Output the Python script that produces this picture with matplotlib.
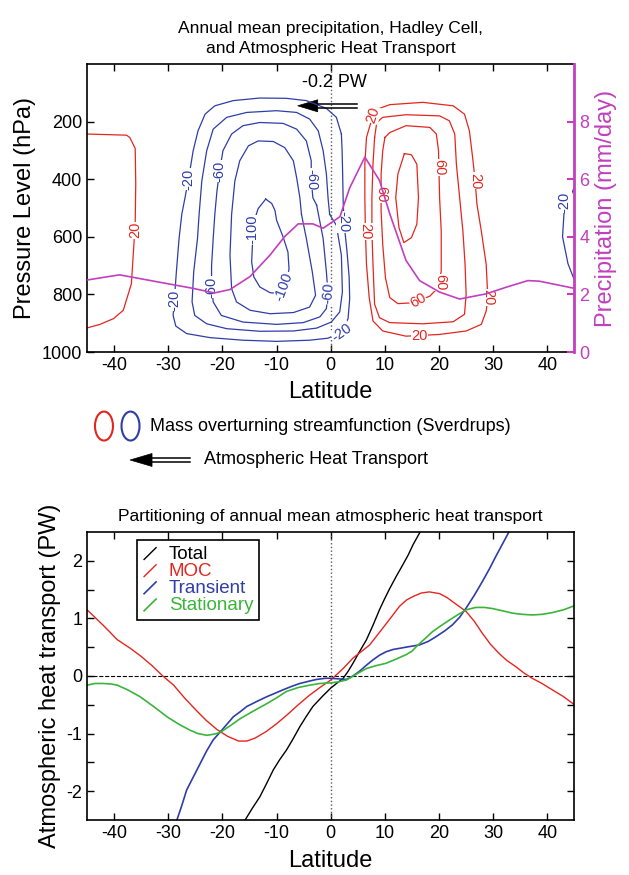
import matplotlib
matplotlib.use('Agg')
import numpy as np
import matplotlib.pyplot as plt
from matplotlib.lines import Line2D
from matplotlib.patches import Ellipse, Polygon
from matplotlib.legend_handler import HandlerBase

plt.rcParams['font.family'] = ['Liberation Sans', 'DejaVu Sans']
plt.rcParams['axes.unicode_minus'] = False

# ---- top panel: streamfunction contours (Sv), traced as (lat, pressure hPa)
red_sh20_lat = [-45, -37.7, -37.1, -36.1, -36.0, -36.1, -36.8, -38.3, -40.1, -42.6, -44.9]
red_sh20_p = [243, 247, 255, 293, 415, 554, 763, 855, 884, 904, 916]

blue20_lat = [1.97, 1.04, -0.8, -4.5, -8.2, -13.1, -18.0, -21.4, -23.2, -24.5, -25.4, -26.1, -26.9,
              -27.5, -28.0, -28.5, -28.9, -29.1, -28.6, -26.6, -22.3, -16.2, -10.0, -3.9, -0.5, 2.0,
              3.2, 3.5, 3.4, 3.0, 2.5, 2.3, 2.2, 2.1]
blue20_p = [243, 185, 154, 127, 119, 118, 127, 145, 174, 232, 301, 382, 464,
            522, 606, 722, 826, 873, 910, 936, 950, 959, 963, 959, 952, 931,
            884, 815, 740, 650, 560, 480, 380, 300]

blue40_lat = [-0.2, -0.5, -0.8, -1.4, -2.3, -3.9, -6.3, -10.0, -15.5, -19.2, -21.7, -22.9, -23.8, -24.3,
              -24.6, -25.3, -25.6, -25.1, -22.9, -19.2, -13.1, -6.9, -2.6, 0.1, 1.66, 2.15, 1.97, 1.04]
blue40_p = [522, 464, 382, 301, 232, 191, 168, 162, 168, 185, 226, 301, 406, 522,
            606, 722, 826, 873, 902, 919, 928, 927, 917, 896, 861, 792, 664, 560]

blue60_lat = [-2.6, -3.3, -3.6, -3.6, -4.5, -6.3, -8.8, -13.1, -16.2, -18.3, -19.9, -20.5, -21.0, -21.4,
              -21.7, -22.0, -22.0, -21.7, -20.2, -16.2, -10.0, -5.1, -2.0, -0.8, -0.5, -0.8, -1.4]
blue60_p = [490, 464, 400, 336, 267, 226, 206, 203, 214, 243, 301, 371, 440, 522,
            606, 700, 774, 826, 873, 896, 904, 898, 878, 849, 797, 722, 606]

blue80_lat = [-5.4, -5.7, -6.3, -6.9, -8.5, -10.6, -13.4, -15.2, -16.8, -17.7, -18.3, -18.6, -18.3,
              -17.4, -14.9, -11.2, -6.9, -3.9, -2.8, -3.4, -4.5]
blue80_p = [522, 464, 394, 336, 290, 269, 267, 284, 336, 406, 522, 664, 780,
            826, 855, 867, 863, 844, 803, 722, 606]

blue100_lat = [-12.0, -13.4, -14.0, -14.4, -14.6, -14.2, -13.1, -11.2, -9.7, -8.2, -7.7, -7.9, -8.8,
               -10.0, -10.3, -10.9]
blue100_p = [469, 502, 537, 606, 687, 739, 774, 794, 797, 762, 711, 653, 600, 542, 508, 484]

blue_edge20_lat = [45, 43.1, 42.8, 43.8, 45]
blue_edge20_p = [427, 508, 600, 693, 751]

red20_lat = [7.5, 6.6, 6.3, 6.3, 6.4, 6.6, 7.1, 7.8, 9.6, 13.9, 20.1, 25.0, 27.8, 28.7, 29.0, 28.7,
             27.8, 27.0, 26.6, 26.2, 25.6, 24.7, 22.6, 17.0, 10.9, 8.7]
red20_p = [197, 255, 348, 464, 580, 695, 811, 892, 927, 945, 939, 927, 904, 858, 811, 695,
           580, 487, 394, 325, 232, 174, 145, 133, 141, 156]

red40_lat = [8.1, 8.5, 9.6, 13.9, 20.1, 21.9, 22.9, 23.2, 23.8, 24.4, 24.8, 25.0, 24.7, 22.6, 17.0,
             10.9, 9.0, 8.1, 7.8, 7.6, 7.6, 7.8]
red40_p = [255, 203, 185, 176, 180, 197, 243, 348, 464, 580, 695, 800, 869, 895, 902,
           898, 881, 834, 695, 580, 464, 348]

red60_lat = [10.0, 10.9, 13.9, 18.3, 19.5, 19.9, 20.1, 20.4, 20.4, 19.8, 18.3, 15.2, 12.4, 10.9, 10.1,
             9.6, 9.3, 9.3, 9.6]
red60_p = [255, 238, 214, 220, 243, 301, 464, 580, 719, 777, 806, 829, 832, 811, 742,
           626, 510, 382, 301]

red80_lat = [13.6, 14.9, 15.9, 16.2, 15.9, 14.9, 13.5, 12.6, 12.0, 12.4]
red80_p = [311, 315, 348, 464, 556, 603, 620, 568, 464, 382]

# contour labels: text, lat, pressure, rotation
blue_labels = [("-20", -26.2, 400, 90), ("-60", -20.6, 371, 90), ("-60", -3.6, 400, -90),
               ("-20", 2.4, 548, -90), ("-100", -14.4, 575, 90), ("-100", -8.6, 772, 70),
               ("-20", -28.9, 820, 90), ("-60", -22.0, 774, 90), ("-60", -0.5, 797, 85),
               ("-20", 2.0, 931, 35), ("-20", 43.2, 480, 90)]
red_labels = [("20", -36.1, 577, 90), ("20", 7.8, 176, 72), ("20", 6.4, 580, -90),
              ("20", 16.4, 946, 0), ("20", 29.0, 811, -90), ("20", 26.6, 406, -90),
              ("60", 20.0, 359, -90), ("60", 20.3, 759, -90), ("60", 16.1, 822, 30),
              ("60", 9.3, 452, -90)]

# precipitation (mm/day)
precip_lat = [-45, -39, -31.5, -25.4, -21.5, -18.6, -14.9, -11.2, -8.5, -6.0, -3.3, -1.4, 0.4, 1.7,
              3.5, 6.3, 9.0, 10.9, 13.9, 16.4, 20.1, 23.8, 28.7, 32.4, 36.4, 38.5, 45]
precip = [2.50, 2.68, 2.42, 2.21, 2.05, 2.17, 2.62, 3.37, 4.01, 4.45, 4.45, 4.30, 4.53, 4.70,
          5.70, 6.77, 5.96, 4.80, 3.18, 2.48, 2.08, 1.84, 2.02, 2.25, 2.48, 2.46, 2.21]

# ---- bottom panel: heat transport (PW)
moc_lat = [-45, -42, -39.4, -37, -35, -33, -31, -29, -27, -25, -23, -21, -19, -17, -15.5, -14, -12,
           -10, -8, -6, -4, -2, 0, 2.3, 4.1, 6, 7.2, 9.6, 11, 12.7, 14, 15.2, 16.7, 18.2, 20.1,
           21.5, 22.5, 25, 26.5, 28, 29.5, 31.1, 32.5, 34.2, 35.7, 37.2, 39, 40.9, 43, 45]
moc = [1.15, 0.88, 0.63, 0.48, 0.34, 0.18, 0.0, -0.16, -0.38, -0.58, -0.77, -0.93, -1.05, -1.13,
       -1.13, -1.08, -0.97, -0.83, -0.67, -0.5, -0.34, -0.2, -0.07, 0.13, 0.31, 0.45, 0.54, 0.83,
       1.0, 1.21, 1.32, 1.38, 1.44, 1.46, 1.43, 1.36, 1.29, 1.12, 0.95, 0.74, 0.55, 0.39, 0.27,
       0.16, 0.05, -0.04, -0.13, -0.24, -0.36, -0.50]

total_lat = [-15.8, -14.5, -13.1, -11.8, -10.6, -9.4, -8.2, -7, -5.7, -4.5, -3.3, -1.5, 0, 1.2, 2.3,
             3.2, 4.1, 5.3, 6.6, 7.8, 9.0, 10, 10.9, 12.1, 13.3, 14.3, 15.2, 16.5]
total = [-2.5, -2.3, -2.10, -1.86, -1.63, -1.45, -1.29, -1.1, -0.88, -0.7, -0.53, -0.35, -0.21,
         -0.12, -0.04, 0.08, 0.22, 0.42, 0.63, 0.88, 1.15, 1.35, 1.52, 1.73, 1.93, 2.1, 2.28, 2.5]

trans_lat = [-28.4, -27.5, -26.6, -25.3, -24.1, -22.9, -21.7, -20.1, -19, -18, -16.7, -15.5, -13.6,
             -11.8, -10.3, -8.8, -7.2, -5.7, -4, -2.6, -1, 0, 1.5, 2.9, 4.1, 5.3, 6.5, 7.8, 9, 10.2,
             11.5, 12.7, 14.5, 16.4, 18, 19.4, 21, 22.5, 23.8, 25, 26.5, 28, 29.3, 30.5, 31.7, 32.9]
transient = [-2.5, -2.25, -1.98, -1.74, -1.52, -1.30, -1.11, -0.94, -0.82, -0.71, -0.62, -0.53,
             -0.44, -0.36, -0.30, -0.24, -0.18, -0.13, -0.09, -0.06, -0.04, -0.04, -0.05, -0.06,
             0.0, 0.08, 0.18, 0.28, 0.36, 0.42, 0.46, 0.48, 0.51, 0.54, 0.60, 0.68, 0.78, 0.89,
             1.02, 1.18, 1.40, 1.64, 1.86, 2.08, 2.29, 2.50]

stat_lat = [-45, -43.5, -42, -40.5, -39.4, -37.5, -35.2, -32.7, -30.2, -28, -26, -24.5, -22.9, -21.5,
            -20.4, -18.5, -16.7, -14.3, -11.8, -10, -8.2, -6, -3.9, -2, 0, 1.5, 2.9, 4.7, 6.6, 8.4,
            10.2, 12, 13.9, 15, 15.8, 17.3, 18.8, 20.3, 21.9, 23.4, 25, 26.8, 28.4, 29.9, 31.8,
            33.6, 35.4, 37.2, 39, 40.9, 43, 45]
stationary = [-0.16, -0.13, -0.13, -0.14, -0.16, -0.24, -0.36, -0.53, -0.71, -0.84, -0.94, -1.0,
              -1.03, -1.01, -0.98, -0.86, -0.74, -0.61, -0.48, -0.38, -0.27, -0.2, -0.16, -0.13,
              -0.12, -0.10, -0.07, 0.03, 0.13, 0.18, 0.22, 0.29, 0.37, 0.43, 0.51, 0.64, 0.77,
              0.87, 0.97, 1.06, 1.15, 1.19, 1.19, 1.17, 1.13, 1.09, 1.07, 1.06, 1.07, 1.10, 1.15, 1.22]

RED = '#e3261f'
BLUE = '#2f3da8'
MAG = '#c23fbf'
GREEN = '#3ab53a'


def closed(lat, p):
    return list(lat) + [lat[0]], list(p) + [p[0]]


def heat_arrow(add, transform, x_tip, x_base, x_tail, y, half_h, gap):
    # filled head + double-line shaft
    head = Polygon([[x_tip, y], [x_base, y + half_h], [x_base, y - half_h]], closed=True,
                   facecolor='k', edgecolor='k', lw=0.5, transform=transform)
    add(head)
    for off in (-gap, gap):
        add(Line2D([x_base, x_tail], [y + off, y + off], color='k', lw=1.1, transform=transform))


class SlashHandler(HandlerBase):
    def create_artists(self, legend, orig_handle, xdescent, ydescent, width, height, fontsize, trans):
        x0, y0 = -xdescent, -ydescent
        ln = Line2D([x0 + 0.1 * width, x0 + 0.9 * width], [y0 - 0.05 * height, y0 + 0.85 * height],
                    color=orig_handle.get_color(), lw=orig_handle.get_linewidth(), transform=trans)
        return [ln]


fig = plt.figure(figsize=(6.29, 8.75), dpi=100)

# ================= top panel =================
ax = fig.add_axes([0.1383, 0.5977, 0.775, 0.3291])
ax.plot(red_sh20_lat, red_sh20_p, color=RED, lw=0.9)
ax.plot(blue_edge20_lat, blue_edge20_p, color=BLUE, lw=0.9)
for la, pp in [(blue20_lat, blue20_p), (blue40_lat, blue40_p), (blue60_lat, blue60_p),
               (blue80_lat, blue80_p), (blue100_lat, blue100_p)]:
    x, y = closed(la, pp)
    ax.plot(x, y, color=BLUE, lw=0.9)
for la, pp in [(red20_lat, red20_p), (red40_lat, red40_p), (red60_lat, red60_p), (red80_lat, red80_p)]:
    x, y = closed(la, pp)
    ax.plot(x, y, color=RED, lw=0.9)

for labels, col in [(blue_labels, BLUE), (red_labels, RED)]:
    for txt, la, pp, rot in labels:
        ax.text(la, pp, txt, color=col, fontsize=10.5, rotation=rot, rotation_mode='anchor',
                ha='center', va='center', zorder=3,
                bbox=dict(facecolor='white', edgecolor='none', pad=0.2))

ax.axvline(0, color='0.35', ls=':', lw=1.0)
ax.text(0.7, 63, '-0.2 PW', fontsize=13, ha='center', va='center')
heat_arrow(ax.add_artist, ax.transData, -6.1, -2.4, 4.8, 145, 21, 8)

ax.set_xlim(-45, 45)
ax.set_ylim(1000, 0)
ax.set_xticks(np.arange(-40, 41, 10))
ax.set_yticks([200, 400, 600, 800, 1000])
ax.tick_params(direction='in', top=True, right=False, labelsize=13, length=5, width=1)
for s in ax.spines.values():
    s.set_linewidth(1.2)
ax.spines['right'].set_visible(False)
ax.set_xlabel('Latitude', fontsize=17, labelpad=5)
ax.set_ylabel('Pressure Level (hPa)', fontsize=17)
ax.set_title('Annual mean precipitation, Hadley Cell,\nand Atmospheric Heat Transport',
             fontsize=12.5, pad=8, linespacing=1.4)

ax2 = ax.twinx()
ax2.plot(precip_lat, precip, color=MAG, lw=1.2)
ax2.set_ylim(0, 10)
ax2.set_yticks([0, 2, 4, 6, 8])
ax2.tick_params(direction='in', colors=MAG, labelsize=13, length=5, width=1.5)
for k in ['left', 'top', 'bottom']:
    ax2.spines[k].set_visible(False)
ax2.spines['right'].set_color(MAG)
ax2.spines['right'].set_linewidth(2)
ax2.set_ylabel('Precipitation (mm/day)', fontsize=17, color=MAG)

# ================= key between panels =================
fig.add_artist(Ellipse((0.1653, 0.5131), 0.0286, 0.0331, transform=fig.transFigure,
                       facecolor='none', edgecolor=RED, lw=1.5))
fig.add_artist(Ellipse((0.2075, 0.5131), 0.0286, 0.0331, transform=fig.transFigure,
                       facecolor='none', edgecolor=BLUE, lw=1.5))
fig.text(0.2385, 0.5131, 'Mass overturning streamfunction (Sverdrups)', fontsize=13, va='center')
heat_arrow(fig.add_artist, fig.transFigure, 0.2067, 0.2417, 0.302, 0.4743, 0.0074, 0.0027)
fig.text(0.3243, 0.4743, 'Atmospheric Heat Transport', fontsize=13, va='center')

# ================= bottom panel =================
bx = fig.add_axes([0.1383, 0.0629, 0.775, 0.3291])
bx.axhline(0, color='k', ls='--', lw=0.8)
bx.axvline(0, color='0.35', ls=':', lw=1.0)
bx.plot(total_lat, total, color='k', lw=1.0, label='Total')
bx.plot(moc_lat, moc, color=RED, lw=1.0, label='MOC')
bx.plot(trans_lat, transient, color=BLUE, lw=1.2, label='Transient')
bx.plot(stat_lat, stationary, color=GREEN, lw=1.2, label='Stationary')
bx.set_xlim(-45, 45)
bx.set_ylim(-2.5, 2.5)
bx.set_xticks(np.arange(-40, 41, 10))
yt = np.arange(-2, 2.01, 0.5)
bx.set_yticks(yt)
bx.set_yticklabels([f'{v:.0f}' if v == int(v) else '' for v in yt])
bx.tick_params(direction='in', top=True, right=True, labelsize=13, length=5, width=1)
for s in bx.spines.values():
    s.set_linewidth(1.2)
bx.set_xlabel('Latitude', fontsize=17, labelpad=6)
bx.set_ylabel('Atmospheric heat transport (PW)', fontsize=17)
bx.set_title('Partitioning of annual mean atmospheric heat transport', fontsize=12.5, pad=8)
leg = bx.legend(loc='upper left', bbox_to_anchor=(0.1025, 0.972), borderaxespad=0,
                fontsize=13.5, labelcolor='linecolor', handlelength=0.8, handletextpad=0.6,
                labelspacing=0.0, borderpad=0.3, fancybox=False, framealpha=1,
                handler_map={Line2D: SlashHandler()})
leg.get_frame().set_edgecolor('k')
leg.get_frame().set_linewidth(1.2)

fig.savefig('out.png', dpi=100)
